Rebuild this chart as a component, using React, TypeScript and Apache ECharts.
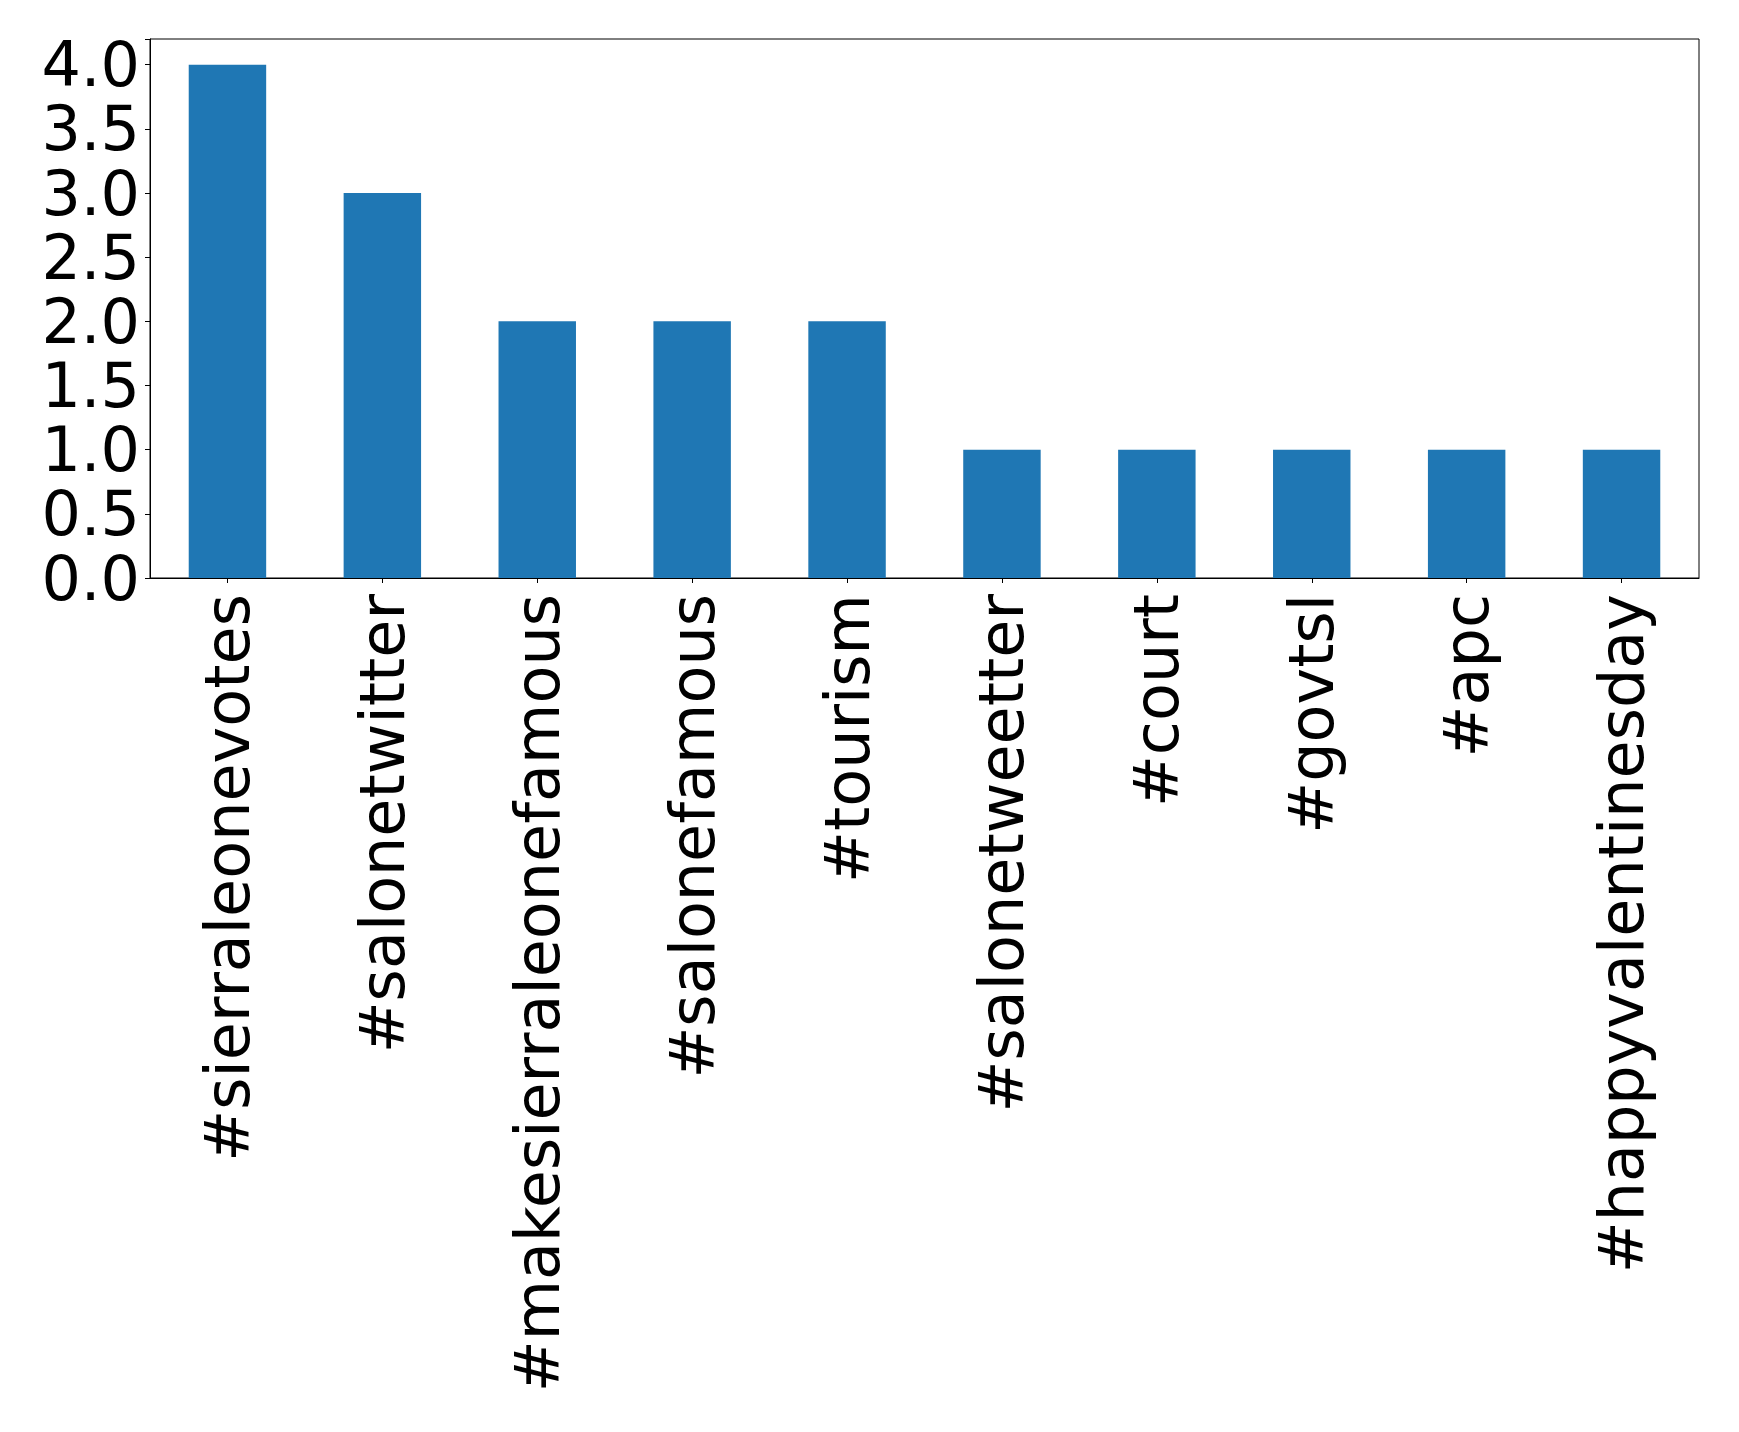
import React, { useEffect, useRef } from "react";
import * as echarts from "echarts";

const categories = [
  "#sierraleonevotes",
  "#salonetwitter",
  "#makesierraleonefamous",
  "#salonefamous",
  "#tourism",
  "#salonetweetter",
  "#court",
  "#govtsl",
  "#apc",
  "#happyvalentinesday",
];
const counts = [4, 3, 2, 2, 2, 1, 1, 1, 1, 1];

export default function App() {
  const ref = useRef<HTMLDivElement>(null);
  useEffect(() => {
    if (!ref.current) return;
    const chart = echarts.init(ref.current, null, { renderer: "svg" });
    const font = "DejaVu Sans";
    chart.setOption({
      animation: false,
      backgroundColor: "#ffffff",
      grid: {
        left: 150,
        top: 39,
        right: 40,
        bottom: 854,
        show: true,
        borderColor: "#000",
        borderWidth: 1,
        backgroundColor: "transparent",
      },
      xAxis: {
        type: "category",
        data: categories,
        boundaryGap: true,
        axisLine: { show: true, lineStyle: { color: "#000", width: 1 } },
        axisTick: { show: true, alignWithLabel: true, length: 5, lineStyle: { color: "#000" } },
        axisLabel: {
          rotate: 90,
          interval: 0,
          margin: 16,
          color: "#000",
          fontFamily: font,
          fontSize: 62,
        },
        splitLine: { show: false },
      },
      yAxis: {
        type: "value",
        min: 0,
        max: 4.2,
        interval: 0.5,
        axisLine: { show: true, lineStyle: { color: "#000", width: 1 } },
        axisTick: { show: true, length: 5, lineStyle: { color: "#000" } },
        axisLabel: {
          margin: 10,
          color: "#000",
          fontFamily: font,
          fontSize: 62,
          lineHeight: 50,
          formatter: (v: number) =>
            Math.abs(v * 2 - Math.round(v * 2)) < 1e-6 ? v.toFixed(1) : "",
        },
        splitLine: { show: false },
      },
      series: [
        {
          type: "bar",
          data: counts,
          barWidth: "50%",
          itemStyle: { color: "#1f77b4" },
        },
      ],
    });
    return () => chart.dispose();
  }, []);
  return (
    <div
      ref={ref}
      style={{ position: "fixed", left: 0, top: 0, width: 1739, height: 1432 }}
    />
  );
}
